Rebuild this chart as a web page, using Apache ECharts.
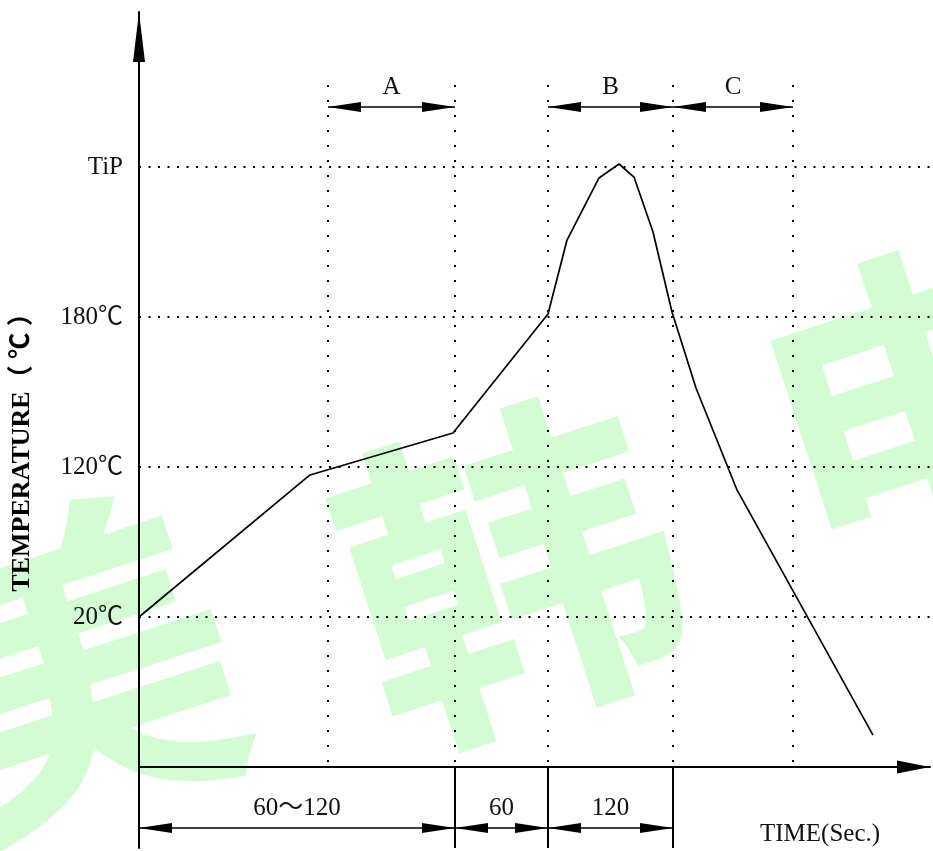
<!DOCTYPE html>
<html><head><meta charset="utf-8">
<script src="https://cdn.jsdelivr.net/npm/echarts@6/dist/echarts.min.js"></script>
<style>html,body{margin:0;padding:0;background:#fff}#chart{width:933px;height:851px}</style>
</head><body><div id="chart"></div>
<script>
// ---- data ----
const yLevels = [1, 2, 3, 4];
const yTickLabels = ['20℃', '120℃', '180℃', 'TiP'];
const profileTime  = [0, 171, 314, 409, 428, 460, 480, 495, 514, 533, 557, 598, 734];
const profileLevel = [1.0, 1.947, 2.227, 3.02, 3.513, 3.927, 4.02, 3.933, 3.567, 3.033, 2.527, 1.847, 0.213];
const zoneBounds = [189, 316, 409, 534, 654];
const zoneNames = ['A', 'B', 'C'];
const zoneStart = [189, 409, 534];
const zoneEnd   = [316, 534, 654];
const durationNames = ['60～120', '60', '120'];
const durationStart = [0, 316, 409];
const durationEnd   = [316, 409, 534];
const watermarkChars = ['美', '韩', '电'];

// ---- layout constants ----
const Y_MIN = -0.54, Y_MAX = 5.0333, X_MAX = 791;
const ZONE_LEVEL = 4.4, DUR_LEVEL = -0.407, GUIDE_TOP = 4.547;
const FONT = '"Liberation Serif", "Noto Sans CJK SC", serif';
const FS = 25;

function dimRenderer(names) {
  return function (params, api) {
    const p1 = api.coord([api.value(0), api.value(2)]);
    const p2 = api.coord([api.value(1), api.value(2)]);
    const y = p1[1], L = 33, H = 5;
    return {
      type: 'group',
      children: [
        { type: 'line', shape: { x1: p1[0], y1: y, x2: p2[0], y2: y }, style: { stroke: '#000', lineWidth: 1.6 } },
        { type: 'polygon', shape: { points: [[p1[0], y], [p1[0] + L, y - H], [p1[0] + L, y + H]] }, style: { fill: '#000' } },
        { type: 'polygon', shape: { points: [[p2[0], y], [p2[0] - L, y - H], [p2[0] - L, y + H]] }, style: { fill: '#000' } },
        { type: 'text', x: (p1[0] + p2[0]) / 2, y: y - 20,
          style: { text: names[api.value(3)], fill: '#111', fontSize: FS, fontFamily: FONT, align: 'center', verticalAlign: 'middle' } }
      ]
    };
  };
}

const chart = echarts.init(document.getElementById('chart'), null, { renderer: 'canvas' });
const wmStyle = { fill: '#d3fcd3', fontSize: 335, fontWeight: 'bold', fontFamily: '"Noto Sans CJK SC"', align: 'center', verticalAlign: 'middle' };
const wmPos = [[68, 668], [510, 571], [928, 404]];

chart.setOption({
  animation: false,
  backgroundColor: '#fff',
  grid: { left: 139, right: 3, top: 12, bottom: 3, containLabel: false },
  xAxis: {
    type: 'value', min: 0, max: X_MAX,
    axisLine: { show: true, onZero: true, lineStyle: { color: '#000', width: 2 },
      symbol: ['none', 'triangle'], symbolSize: [13, 33], symbolOffset: [0, -16.5] },
    axisTick: { show: false }, axisLabel: { show: false }, splitLine: { show: false }
  },
  yAxis: {
    type: 'value', min: Y_MIN, max: Y_MAX,
    axisLine: { show: true, onZero: true, lineStyle: { color: '#000', width: 2 },
      symbol: ['none', 'triangle'], symbolSize: [12, 50], symbolOffset: [0, -25] },
    axisTick: { show: false }, splitLine: { show: false },
    axisLabel: {
      customValues: yLevels, margin: 16, color: '#111', fontSize: FS, fontFamily: FONT,
      formatter: v => yTickLabels[yLevels.indexOf(Math.round(v))] || ''
    }
  },
  graphic: [
    ...watermarkChars.map((c, i) => ({
      type: 'text', z: -10, x: wmPos[i][0], y: wmPos[i][1], rotation: 0.314, silent: true,
      style: Object.assign({ text: c }, wmStyle)
    })),
    { type: 'text', x: 22, y: 446, rotation: Math.PI / 2, z: 5,
      style: { text: 'TEMPERATURE（ ℃ ）', fill: '#000', fontSize: 26, fontWeight: 'bold', fontFamily: FONT, align: 'center', verticalAlign: 'middle' } },
    { type: 'text', x: 820, y: 834, z: 5,
      style: { text: 'TIME(Sec.)', fill: '#111', fontSize: FS, fontFamily: FONT, align: 'center', verticalAlign: 'middle' } }
  ],
  series: [
    {
      name: 'hguides', type: 'line', data: [], silent: true, z: 3,
      markLine: {
        silent: true, symbol: ['none', 'none'], label: { show: false }, emphasis: { disabled: true },
        lineStyle: { color: '#000', width: 2, type: [2, 7.5], cap: 'butt' },
        data: yLevels.map(v => ({ yAxis: v }))
      }
    },
    {
      name: 'vguides', type: 'line', data: [], silent: true, z: 3,
      markLine: {
        silent: true, symbol: ['none', 'none'], label: { show: false }, emphasis: { disabled: true },
        lineStyle: { color: '#000', width: 2, type: [2, 13], cap: 'butt' },
        data: zoneBounds.map(x => [{ coord: [x, GUIDE_TOP] }, { coord: [x, 0] }])
      }
    },
    {
      name: 'bounds', type: 'line', data: [], silent: true, z: 3,
      markLine: {
        silent: true, symbol: ['none', 'none'], label: { show: false }, emphasis: { disabled: true },
        lineStyle: { color: '#000', width: 2, type: 'solid' },
        data: durationEnd.map(x => [{ coord: [x, 0] }, { coord: [x, Y_MIN] }])
      }
    },
    {
      name: 'profile', type: 'line', z: 6, showSymbol: false, silent: true,
      lineStyle: { color: '#000', width: 1.7 },
      data: profileTime.map((t, i) => [t, profileLevel[i]])
    },
    {
      name: 'zones', type: 'custom', z: 6, silent: true,
      renderItem: dimRenderer(zoneNames),
      encode: { x: [0, 1], y: 2 },
      data: zoneStart.map((s, i) => [s, zoneEnd[i], ZONE_LEVEL, i])
    },
    {
      name: 'durations', type: 'custom', z: 6, silent: true,
      renderItem: dimRenderer(durationNames),
      encode: { x: [0, 1], y: 2 },
      data: durationStart.map((s, i) => [s, durationEnd[i], DUR_LEVEL, i])
    }
  ]
});
</script>
</body></html>
